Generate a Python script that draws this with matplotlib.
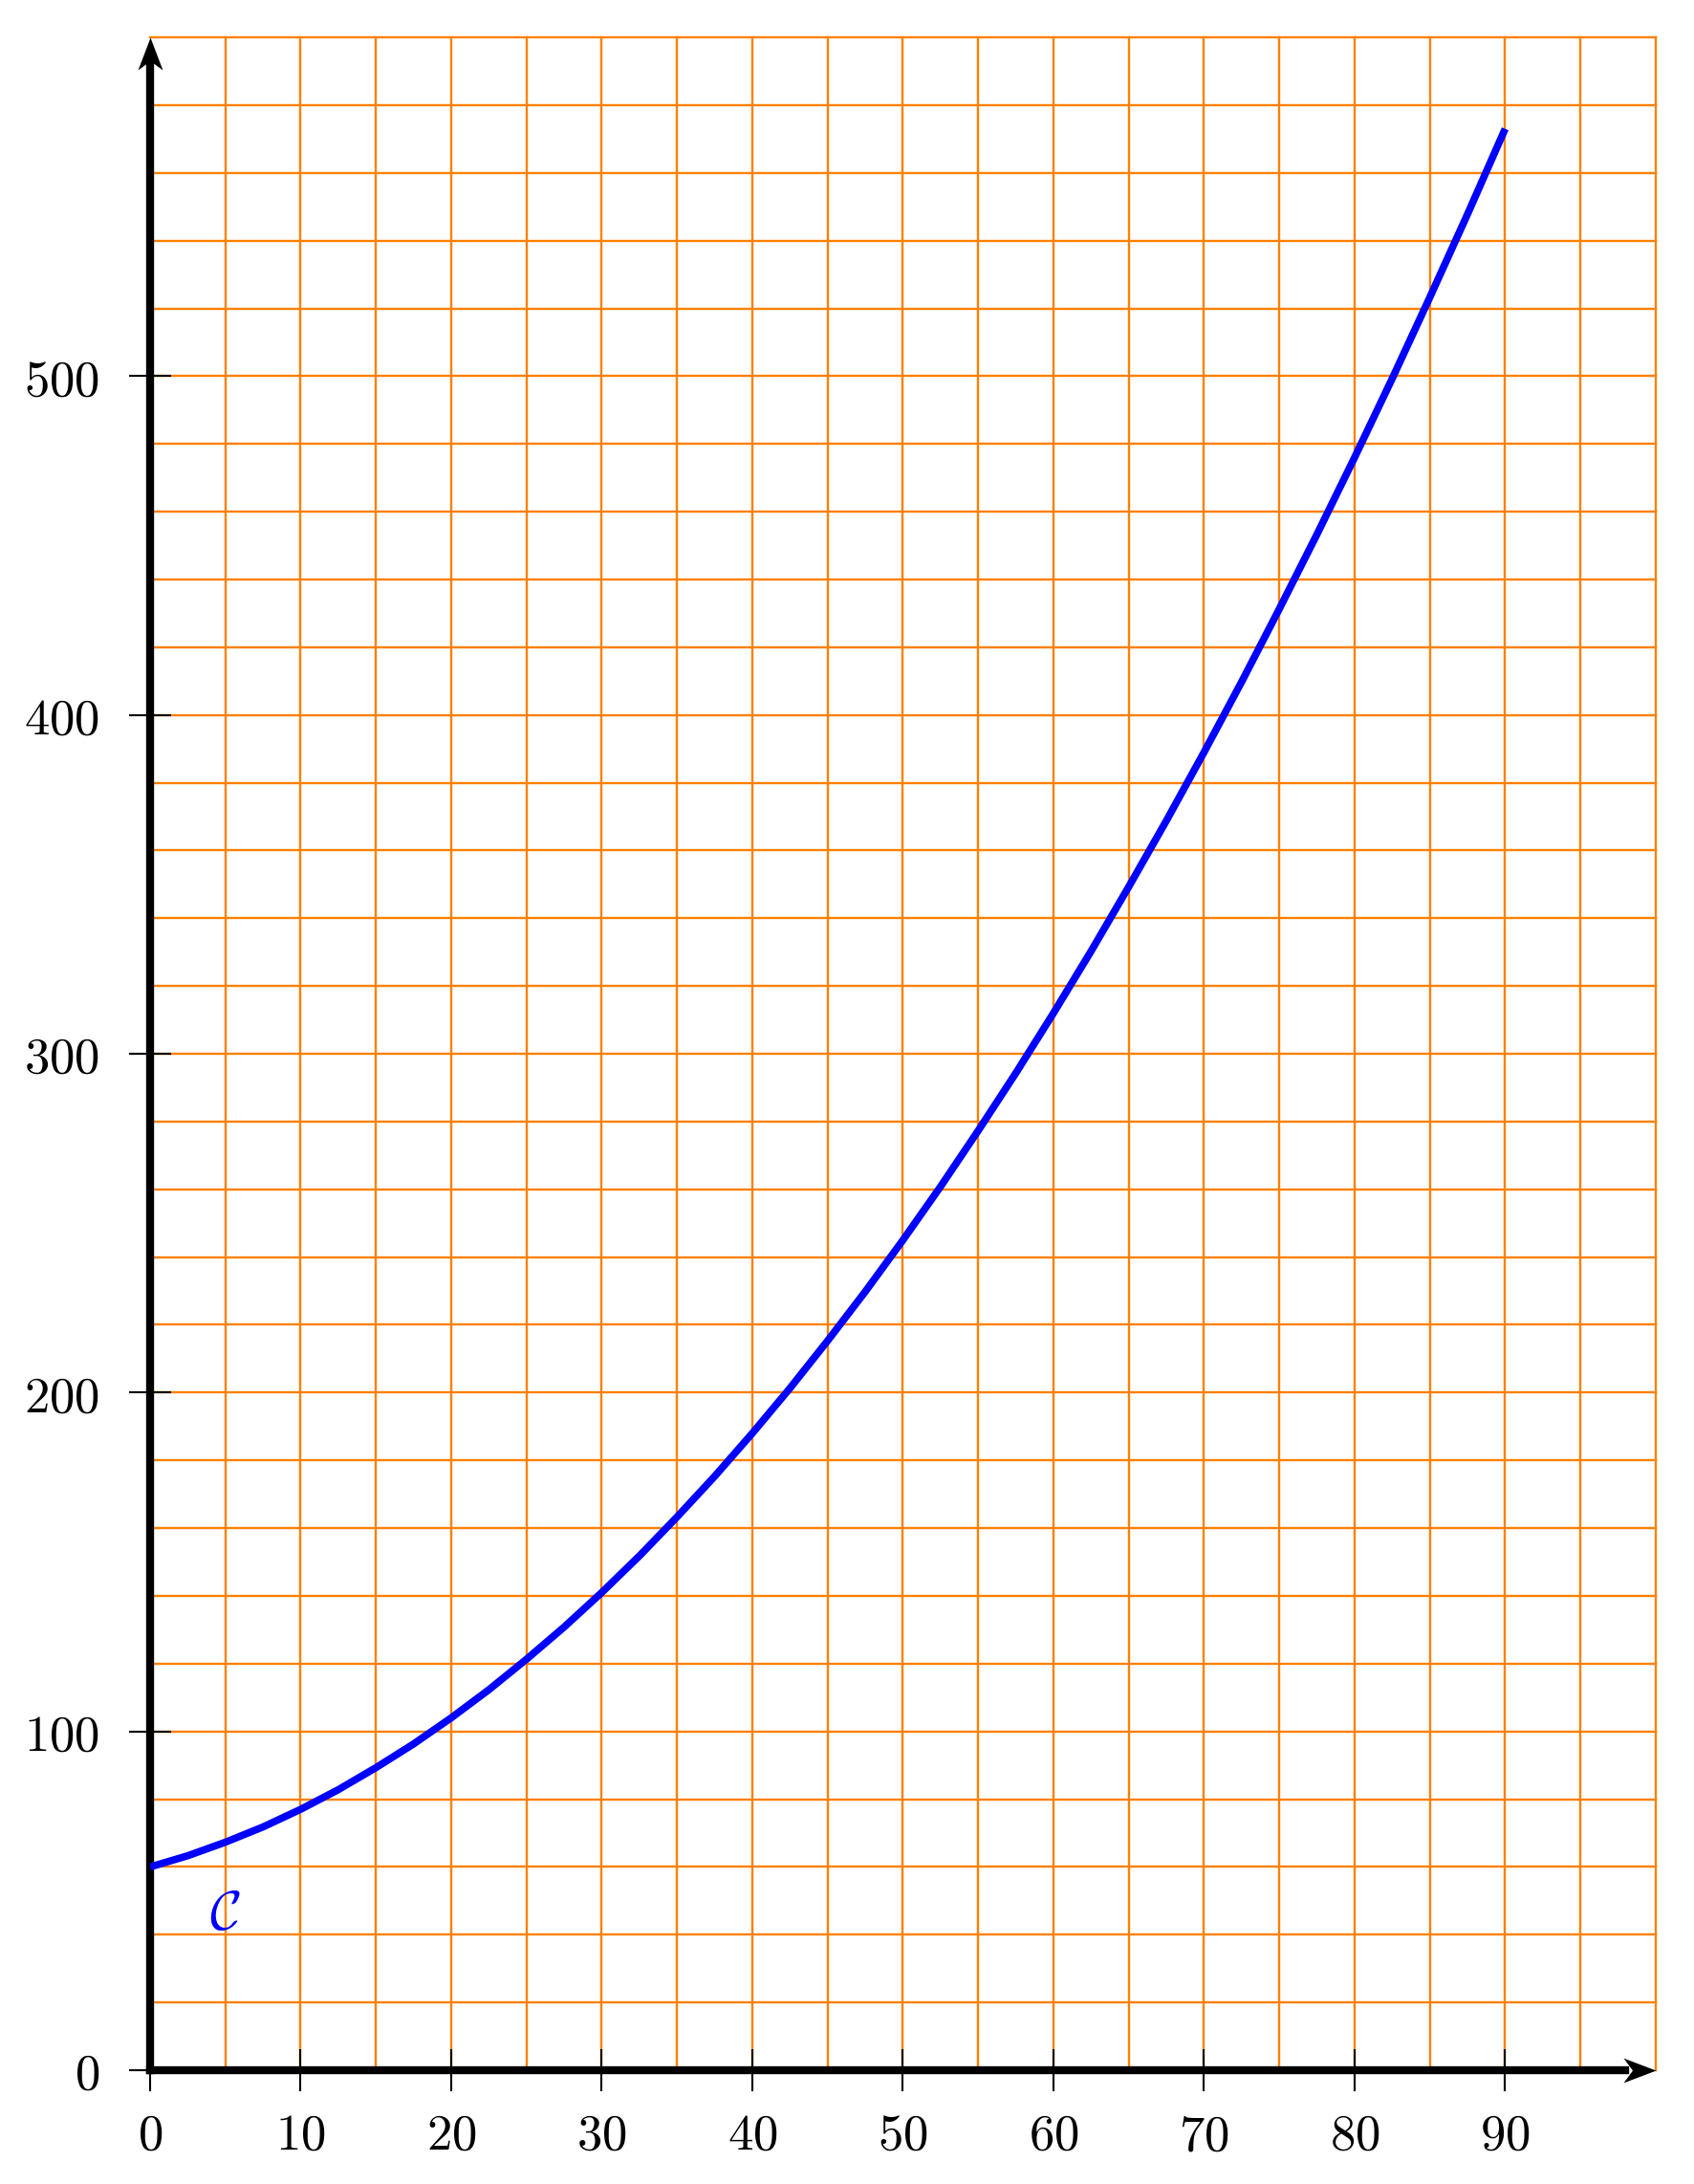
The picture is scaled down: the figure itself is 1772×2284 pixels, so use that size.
import matplotlib
matplotlib.use("Agg")
import matplotlib.pyplot as plt
from matplotlib.path import Path

plt.rcParams['mathtext.fontset'] = 'cm'
plt.rcParams['font.family'] = ['DejaVu Serif']

# values
x_vals = [0, 2.5, 5, 7.5, 10, 12.5, 15, 17.5, 20, 22.5, 25, 27.5, 30, 32.5, 35, 37.5,
          40, 42.5, 45, 47.5, 50, 52.5, 55, 57.5, 60, 62.5, 65, 67.5, 70, 72.5, 75,
          77.5, 80, 82.5, 85, 87.5, 90]
y_vals = [60, 63.3, 67.3, 71.8, 77, 82.8, 89.3, 96.3, 104, 112.3, 121.3, 130.8, 141,
          151.8, 163.3, 175.3, 188, 201.3, 215.3, 229.8, 245, 260.8, 277.3, 294.3,
          312, 330.3, 349.3, 368.8, 389, 409.8, 431.3, 453.3, 476, 499.3, 523.3,
          547.8, 573]

x_ticks = [0, 10, 20, 30, 40, 50, 60, 70, 80, 90]
y_ticks = [0, 100, 200, 300, 400, 500]
x_grid = [5, 10, 15, 20, 25, 30, 35, 40, 45, 50, 55, 60, 65, 70, 75, 80, 85, 90, 95, 100]
y_grid = [20, 40, 60, 80, 100, 120, 140, 160, 180, 200, 220, 240, 260, 280, 300,
          320, 340, 360, 380, 400, 420, 440, 460, 480, 500, 520, 540, 560, 580, 600]
curve_name = r'$\mathcal{C}$'

fig = plt.figure(figsize=(17.72, 22.84), dpi=100)
ax = fig.add_axes([0.0886, 0.0521, 0.9774 - 0.0886, 0.9829 - 0.0521])
ax.set_xlim(0, 100)
ax.set_ylim(0, 600)
for s in ax.spines.values():
    s.set_visible(False)

orange = '#ff8000'
for gx in x_grid:
    ax.axvline(gx, color=orange, lw=1.7, zorder=1, clip_on=False)
for gy in y_grid:
    ax.axhline(gy, color=orange, lw=1.7, zorder=1, clip_on=False)

# axis lines
ax.plot([0, 98], [0, 0], color='black', lw=6, zorder=3, clip_on=False,
        solid_capstyle='projecting')
ax.plot([0, 0], [0, 594], color='black', lw=6, zorder=3, clip_on=False,
        solid_capstyle='projecting')

# stealth-like arrow heads (tip sits on the marker origin)
right_head = Path([(0, 0), (-1, 0.38), (-0.72, 0), (-1, -0.38), (0, 0)],
                  [Path.MOVETO, Path.LINETO, Path.LINETO, Path.LINETO, Path.CLOSEPOLY])
up_head = Path([(0, 0), (0.38, -1), (0, -0.72), (-0.38, -1), (0, 0)],
               [Path.MOVETO, Path.LINETO, Path.LINETO, Path.LINETO, Path.CLOSEPOLY])
ax.plot([100], [0], marker=right_head, ms=49, color='black', mew=0,
        zorder=3, clip_on=False)
ax.plot([0], [600], marker=up_head, ms=49, color='black', mew=0,
        zorder=3, clip_on=False)

ax.plot(x_vals, y_vals, color='#0000ff', lw=5.5, zorder=4, solid_capstyle='butt')
ax.text(5, 46, curve_name, color='#0000ff', fontsize=41, ha='center', va='center')

ax.set_xticks(x_ticks)
ax.set_xticklabels(['$%d$' % t for t in x_ticks])
ax.set_yticks(y_ticks)
ax.set_yticklabels(['$%d$' % t for t in y_ticks])
ax.tick_params(direction='inout', length=32, width=1.5, labelsize=38)
ax.tick_params(axis='x', pad=15)
ax.tick_params(axis='y', pad=22)

fig.savefig('out.png', dpi=100)
